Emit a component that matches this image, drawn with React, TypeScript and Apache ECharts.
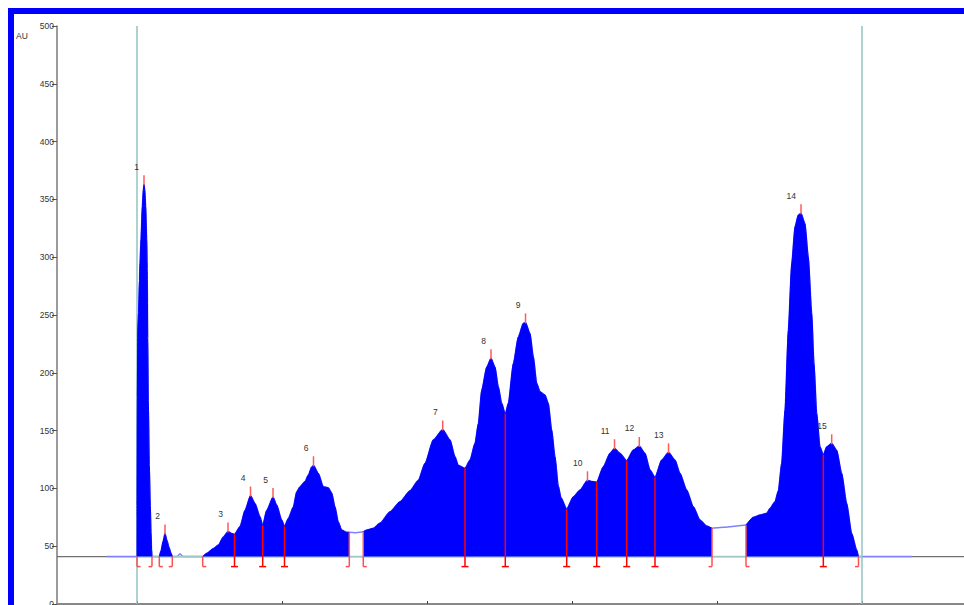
import React, { useEffect, useRef } from "react";
import * as echarts from "echarts";

// Chromatogram trace (time in min, absorbance in AU)
const traceTime = [
  -1.034, 0, 0.01, 0.028, 0.052, 0.086, 0.103, 0.138, 0.183, 0.217, 0.241, 0.269, 0.3, 0.334, 0.352,
  0.369, 0.39, 0.424, 0.459, 0.483, 0.503, 0.517, 0.769, 0.828, 0.897, 0.966, 1.034, 1.103, 1.172,
  1.217, 1.379, 1.483, 1.586, 2.266, 2.403, 2.631, 2.803, 2.976, 3.138, 3.266, 3.362, 3.552, 3.724,
  3.914, 4.069, 4.241, 4.334, 4.472, 4.69, 4.817, 4.99, 5.086, 5.217, 5.39, 5.507, 5.621, 5.793,
  5.907, 6.024, 6.086, 6.252, 6.424, 6.597, 6.714, 6.828, 6.941, 7.059, 7.231, 7.321, 7.552, 7.803,
  7.921, 8.148, 8.379, 8.724, 9.069, 9.414, 9.7, 9.931, 10.217, 10.541, 10.793, 10.966, 11.079,
  11.31, 11.483, 11.655, 11.769, 11.886, 12.059, 12.207, 12.345, 12.459, 12.576, 12.7, 12.803,
  12.976, 13.148, 13.321, 13.397, 13.552, 13.666, 13.783, 13.897, 14.069, 14.183, 14.3, 14.414,
  14.528, 14.621, 14.817, 15.045, 15.276, 15.534, 15.69, 15.852, 16.079, 16.31, 16.466, 16.655,
  16.886, 17.114, 17.321, 17.517, 17.69, 17.862, 18.093, 18.328, 18.552, 18.724, 18.955, 19.183,
  19.414, 19.645, 19.828, 20.217, 20.679, 21.0, 21.252, 21.483, 21.714, 21.828, 22.0, 22.114,
  22.231, 22.345, 22.459, 22.576, 22.69, 22.803, 22.897, 23.034, 23.148, 23.266, 23.345, 23.438,
  23.552, 23.666, 23.783, 23.955, 24.128, 24.3, 24.472, 24.645, 24.817, 24.879, 26.724,
];
const traceAU = [
  41, 41, 180, 240, 252, 280, 295, 316, 344, 358, 363, 358, 344, 316, 290,
  230, 176, 120, 85, 62, 47, 41, 41, 46, 54, 61, 55, 49, 44,
  41, 41, 43.5, 41, 41, 43.8, 48, 51, 58, 62.8, 61, 60.3, 67, 81,
  93.8, 87, 75.5, 68.2, 81, 92.5, 85.6, 72.7, 67.2, 74, 84, 97, 101.5, 106,
  111.6, 118.5, 120, 113, 101.5, 100.6, 96, 84, 71, 64, 62, 62, 61.7, 62.5,
  64, 65.5, 70, 79.8, 88.5, 98, 107, 121.7, 142, 151, 142, 127.4, 120,
  117.4, 124.6, 139, 156, 185, 205, 212.5, 205, 188, 173.6, 164.4, 173.6,
  208, 231, 242.8, 243.6, 234, 214, 191, 183.7, 180.8, 173.6, 150.5, 127.4,
  102, 92, 82.2, 92.8, 98.6, 107, 106, 105.5, 118.8, 130.4, 134.7, 130.4,
  124, 133.2, 136.7, 130.4, 116, 109.6, 124.6, 131.2, 124.6, 113, 98.6, 84.2,
  72.7, 67.5, 65.5, 66.3, 67.5, 68.3, 75, 77, 78.5, 82.8, 88.5, 98,
  122, 168, 237, 294.7, 326.4, 336.5, 338, 329, 300.4, 251.5, 208, 165,
  136, 129, 136, 139, 133, 113, 87, 61, 46.7, 41, 41,
];

// Peaks (apex)
const peakNames = ["1", "2", "3", "4", "5", "6", "7", "8", "9", "10", "11", "12", "13", "14", "15"];
const peakTime = [0.241, 0.966, 3.138, 3.914, 4.69, 6.086, 10.541, 12.207, 13.397, 15.534, 16.466, 17.321, 18.328, 22.897, 23.955];
const peakAU = [363, 61, 62.8, 93.8, 92.5, 120, 151, 212.5, 243.6, 107, 134.7, 136.7, 131.2, 338, 139];

// Drop lines between merged peaks
const dropTime = [3.362, 4.334, 5.086, 11.31, 12.7, 14.817, 15.852, 16.886, 17.862, 23.666];
const dropAU = [60.3, 68.2, 67.2, 117.4, 164.4, 82.2, 105.5, 124, 109.6, 129];

// Integration regions
const regionStart = [0, 0.769, 2.266, 7.803, 21.0];
const regionEnd = [0.517, 1.217, 7.321, 19.828, 24.879];

const baselineAU = 41;
const integrationWindow = [0, 25];
const xTickTimes = [0, 5, 10, 15, 20, 25];
const xMin = -80 / 29;
const xMax = 827 / 29;
const yMin = 0;
const yMax = 500;
const yStep = 50;

const FONT = '"Liberation Sans", Arial, sans-serif';

function valueAt(t: number): number {
  const i = traceTime.indexOf(t);
  return i >= 0 ? traceAU[i] : baselineAU;
}

export default function App() {
  const ref = useRef<HTMLDivElement>(null);
  useEffect(() => {
    if (!ref.current) return;
    const chart = echarts.init(ref.current, undefined, { renderer: "svg" });
    const trace = traceTime.map((t, i) => [t, traceAU[i]]);
    const fills = regionStart.map((s, r) => ({
      type: "line",
      data: trace.filter((p) => p[0] >= s && p[0] <= regionEnd[r]),
      showSymbol: false,
      symbol: "none",
      smooth: 0.2,
      smoothMonotone: "x",
      lineStyle: { color: "#0000ff", width: 1 },
      areaStyle: { color: "#0000ff", opacity: 1, origin: baselineAU },
      silent: true,
      z: 5,
    }));
    const marks: number[][] = [];
    regionStart.forEach((s, r) => {
      marks.push([s, valueAt(s), 1]);
      marks.push([regionEnd[r], valueAt(regionEnd[r]), 2]);
    });
    dropTime.forEach((t, i) => marks.push([t, dropAU[i], 0]));
    const apex = peakTime.map((t, i) => [t, peakAU[i], i]);

    chart.setOption({
      animation: false,
      grid: { left: 49, top: 18, right: 0, bottom: 1, containLabel: false, outerBoundsMode: "none" },
      xAxis: {
        type: "value",
        min: xMin,
        max: xMax,
        axisLine: { onZero: false, lineStyle: { color: "#888888", width: 2 } },
        axisTick: { inside: true, length: 3, customValues: xTickTimes, lineStyle: { color: "#444444" } },
        axisLabel: { show: false },
        splitLine: { show: false },
      },
      yAxis: {
        type: "value",
        min: yMin,
        max: yMax,
        interval: yStep,
        axisLine: { show: true, onZero: false, lineStyle: { color: "#7a7a7a", width: 1.5 } },
        axisTick: { show: true, length: 5, lineStyle: { color: "#555555" } },
        axisLabel: { fontSize: 8.5, color: "#333333", margin: 3, fontFamily: FONT },
        splitLine: { show: false },
      },
      graphic: [
        { type: "rect", shape: { x: 0, y: 0, width: 956, height: 6 }, style: { fill: "#0000ff" }, z: 100 },
        { type: "rect", shape: { x: 0, y: 0, width: 6, height: 597 }, style: { fill: "#0000ff" }, z: 100 },
        {
          type: "text",
          x: 14,
          y: 28,
          style: { text: "AU", fontSize: 8.5, fontFamily: FONT, fill: "#333333", align: "center", verticalAlign: "middle" },
        },
      ],
      series: [
        {
          type: "line",
          data: [[xMin, baselineAU], [xMax, baselineAU]],
          symbol: "none",
          lineStyle: { color: "#707070", width: 1.2 },
          silent: true,
          z: 1,
          markLine: {
            silent: true,
            symbol: ["none", "none"],
            label: { show: false },
            lineStyle: { color: "#93c2c2", width: 1.5, type: "solid" },
            data: integrationWindow.map((t) => ({ xAxis: t })),
          },
        },
        {
          type: "line",
          data: trace,
          symbol: "none",
          smooth: 0.2,
          smoothMonotone: "x",
          lineStyle: { color: "#8080ff", width: 1.5 },
          silent: true,
          z: 2,
        },
        {
          type: "line",
          data: integrationWindow.map((t) => [t, baselineAU]),
          symbol: "none",
          lineStyle: { color: "#a3c8c8", width: 1.5 },
          silent: true,
          z: 3,
        },
        ...fills,
        {
          type: "custom",
          data: marks,
          silent: true,
          z: 10,
          renderItem: (params: any, api: any) => {
            const t = api.value(0);
            const v = api.value(1);
            const kind = api.value(2);
            const top = api.coord([t, v]);
            const base = api.coord([t, baselineAU]);
            const x = top[0];
            const yb = base[1] + 10;
            const f = kind === 0 ? [x - 3.5, x + 3.5] : kind === 1 ? [x, x + 3.5] : [x - 3.5, x];
            const color = kind === 0 ? "#ff0000" : "#ff5050";
            return {
              type: "group",
              children: [
                { type: "line", shape: { x1: x, y1: top[1], x2: x, y2: yb }, style: { stroke: color, lineWidth: 1.5 } },
                { type: "line", shape: { x1: f[0], y1: yb, x2: f[1], y2: yb }, style: { stroke: color, lineWidth: 1.5 } },
              ],
            };
          },
        },
        {
          type: "custom",
          data: apex,
          silent: true,
          z: 11,
          renderItem: (params: any, api: any) => {
            const t = api.value(0);
            const v = api.value(1);
            const idx = api.value(2);
            const p = api.coord([t, v]);
            const topY = p[1] - 9;
            return {
              type: "group",
              children: [
                { type: "line", shape: { x1: p[0], y1: p[1] + 1, x2: p[0], y2: topY }, style: { stroke: "#ff5a5a", lineWidth: 1.5 } },
                {
                  type: "text",
                  style: {
                    text: peakNames[idx],
                    x: p[0] - 5,
                    y: topY - 4,
                    align: "right",
                    verticalAlign: "bottom",
                    fontSize: 8.5,
                    fontFamily: FONT,
                    fill: "#333333",
                  },
                },
              ],
            };
          },
        },
      ],
    });
    return () => chart.dispose();
  }, []);
  return (
    <div
      ref={ref}
      style={{ position: "fixed", left: 8, top: 8, width: 956, height: 597, background: "#ffffff" }}
    />
  );
}
